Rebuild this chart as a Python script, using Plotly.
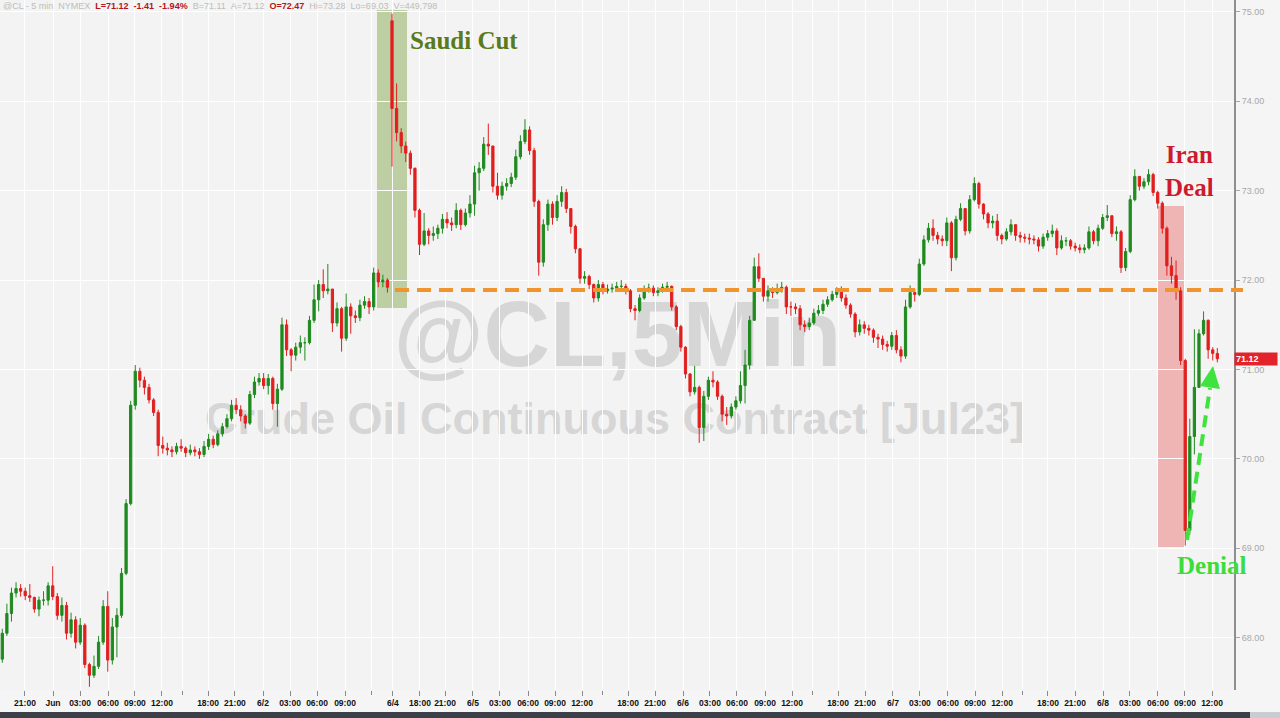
import plotly.graph_objects as go

closes = [
    68.05, 68.27, 68.50, 68.55, 68.52, 68.47, 68.45, 68.32, 68.42, 68.42,
    68.58, 68.46, 68.25, 68.36, 68.05, 68.20, 67.95, 68.14, 67.70, 67.58,
    67.68, 67.95, 68.35, 67.75, 68.12, 68.25, 68.72, 69.50, 70.60, 70.98,
    70.88, 70.80, 70.66, 70.52, 70.15, 70.12, 70.10, 70.08, 70.14, 70.12,
    70.07, 70.10, 70.08, 70.05, 70.14, 70.22, 70.16, 70.28, 70.36, 70.45,
    70.60, 70.55, 70.48, 70.40, 70.72, 70.86, 70.90, 70.82, 70.90, 70.62,
    70.78, 71.50, 71.22, 71.16, 71.25, 71.30, 71.30, 71.55, 71.78, 71.95,
    71.88, 71.90, 71.52, 71.68, 71.35, 71.70, 71.60, 71.58, 71.72, 71.76,
    71.70, 72.08, 71.98, 72.00, 71.92, 73.92, 73.65, 73.50, 73.42, 73.25,
    72.78, 72.40, 72.55, 72.50, 72.52, 72.58, 72.68, 72.64, 72.62, 72.78,
    72.62, 72.75, 72.85, 73.20, 73.25, 73.52, 73.50, 73.05, 72.95, 73.05,
    73.08, 73.15, 73.38, 73.55, 73.68, 73.45, 72.88, 72.20, 72.62, 72.85,
    72.70, 72.88, 72.98, 72.80, 72.60, 72.35, 72.02, 72.04, 71.95, 71.80,
    71.95, 71.88, 71.90, 71.91, 71.93, 71.93, 71.88, 71.68, 71.66, 71.80,
    71.90, 71.91, 71.86, 71.88, 71.92, 71.93, 71.70, 71.48, 71.25, 70.95,
    70.75, 70.80, 70.35, 70.70, 70.88, 70.86, 70.70, 70.50, 70.48, 70.58,
    70.65, 70.82, 71.05, 71.55, 72.15, 72.02, 71.82, 71.88, 71.86, 71.90,
    71.92, 71.70, 71.70, 71.68, 71.50, 71.48, 71.52, 71.63, 71.66, 71.73,
    71.78, 71.84, 71.88, 71.80, 71.72, 71.62, 71.42, 71.50, 71.46, 71.44,
    71.36, 71.34, 71.28, 71.26, 71.38, 71.22, 71.15, 71.70, 71.86, 71.84,
    72.18, 72.45, 72.58, 72.50, 72.46, 72.44, 72.64, 72.25, 72.68, 72.80,
    72.55, 72.90, 73.08, 72.85, 72.74, 72.64, 72.66, 72.50, 72.46, 72.54,
    72.62, 72.50, 72.48, 72.47, 72.46, 72.45, 72.38, 72.48, 72.52, 72.55,
    72.36, 72.44, 72.44, 72.38, 72.36, 72.34, 72.36, 72.54, 72.44, 72.58,
    72.70, 72.72, 72.52, 72.54, 72.14, 72.32, 72.90, 73.16, 73.05, 73.10,
    73.18, 72.98, 72.86, 72.58, 72.16, 72.05, 71.88, 71.10, 69.20, 70.25,
    70.80, 71.40, 71.55, 71.22, 71.18, 71.12,
]
highs = [
    68.10, 68.38, 68.56, 68.62, 68.60, 68.56, 68.60, 68.46, 68.46, 68.52,
    68.62, 68.80, 68.50, 68.45, 68.40, 68.28, 68.24, 68.22, 68.16, 67.72,
    67.80, 68.02, 68.42, 68.52, 68.22, 68.33, 68.78, 69.55, 70.65, 71.05,
    71.02, 70.92, 70.84, 70.68, 70.55, 70.25, 70.18, 70.14, 70.18, 70.22,
    70.14, 70.16, 70.14, 70.12, 70.20, 70.28, 70.26, 70.32, 70.40, 70.50,
    70.66, 70.68, 70.60, 70.50, 70.76, 70.92, 70.96, 70.96, 70.95, 70.92,
    70.84, 71.58, 71.56, 71.24, 71.30, 71.38, 71.36, 71.60, 71.95, 72.00,
    72.12, 72.18, 71.90, 71.75, 71.70, 71.85, 71.74, 71.66, 71.78, 71.82,
    71.80, 72.14, 72.12, 72.06, 72.02, 74.98, 74.20, 73.70, 73.55, 73.45,
    73.26, 72.80, 72.75, 72.58, 72.60, 72.62, 72.74, 72.76, 72.70, 72.86,
    72.80, 72.80, 72.95, 73.28, 73.32, 73.60, 73.75, 73.50, 73.20, 73.10,
    73.14, 73.20, 73.46, 73.62, 73.80, 73.72, 73.48, 72.90, 72.68, 72.90,
    72.88, 72.95, 73.05, 73.02, 72.80, 72.62, 72.36, 72.10, 72.06, 71.96,
    72.00, 71.98, 71.95, 71.96, 71.98, 72.00, 71.96, 71.90, 71.72, 71.84,
    71.94, 71.96, 71.94, 71.92, 71.96, 71.98, 71.94, 71.72, 71.50, 71.26,
    70.96, 71.04, 70.82, 70.76, 70.92, 70.98, 70.88, 70.72, 70.58, 70.62,
    70.70, 70.98, 71.22, 71.60, 72.25, 72.30, 72.02, 71.94, 71.92, 71.96,
    71.98, 71.94, 71.76, 71.74, 71.72, 71.55, 71.58, 71.68, 71.72, 71.78,
    71.82, 71.88, 71.92, 71.93, 71.84, 71.74, 71.64, 71.56, 71.54, 71.50,
    71.46, 71.40, 71.38, 71.32, 71.42, 71.44, 71.26, 71.78, 71.94, 71.90,
    72.24, 72.50, 72.64, 72.68, 72.54, 72.50, 72.70, 72.66, 72.72, 72.86,
    72.80, 72.95, 73.15, 73.10, 72.86, 72.76, 72.72, 72.74, 72.52, 72.58,
    72.68, 72.62, 72.54, 72.52, 72.52, 72.50, 72.48, 72.52, 72.56, 72.62,
    72.58, 72.50, 72.48, 72.46, 72.42, 72.40, 72.40, 72.60, 72.56, 72.62,
    72.74, 72.84, 72.72, 72.60, 72.56, 72.36, 72.95, 73.24, 73.16, 73.14,
    73.24, 73.20, 73.00, 72.88, 72.60, 72.26, 72.22, 71.92, 71.12, 70.45,
    71.45, 71.45, 71.65, 71.56, 71.25, 71.24,
]
lows = [
    67.72, 68.02, 68.18, 68.45, 68.46, 68.42, 68.40, 68.28, 68.24, 68.36,
    68.36, 68.42, 68.20, 68.18, 67.98, 68.00, 67.88, 67.92, 67.66, 67.45,
    67.55, 67.65, 67.92, 67.62, 67.70, 67.78, 68.22, 68.70, 69.48, 70.55,
    70.80, 70.72, 70.62, 70.48, 70.03, 70.06, 70.04, 70.02, 70.05, 70.08,
    70.02, 70.04, 70.03, 70.00, 70.02, 70.10, 70.12, 70.14, 70.25, 70.34,
    70.42, 70.50, 70.42, 70.34, 70.38, 70.68, 70.82, 70.78, 70.72, 70.55,
    70.36, 70.76, 71.15, 70.98, 71.10, 71.18, 71.10, 71.28, 71.52, 71.65,
    71.80, 71.84, 71.42, 71.48, 71.20, 71.32, 71.40, 71.52, 71.54, 71.68,
    71.62, 71.66, 71.92, 71.92, 71.86, 73.27, 73.55, 73.42, 73.32, 73.18,
    72.70, 72.28, 72.38, 72.40, 72.44, 72.46, 72.52, 72.58, 72.55, 72.58,
    72.56, 72.60, 72.70, 72.72, 73.00, 73.22, 73.40, 72.98, 72.90, 72.90,
    73.00, 73.04, 73.12, 73.35, 73.52, 73.40, 72.82, 72.05, 72.15, 72.55,
    72.62, 72.66, 72.82, 72.75, 72.52, 72.30, 71.96, 71.96, 71.90, 71.75,
    71.76, 71.84, 71.85, 71.86, 71.88, 71.89, 71.84, 71.64, 71.55, 71.64,
    71.78, 71.86, 71.82, 71.82, 71.86, 71.88, 71.66, 71.44, 71.20, 70.90,
    70.70, 70.72, 70.18, 70.20, 70.66, 70.80, 70.66, 70.42, 70.38, 70.45,
    70.55, 70.62, 70.62, 71.00, 71.55, 71.98, 71.76, 71.76, 71.80, 71.84,
    71.86, 71.62, 71.60, 71.62, 71.44, 71.42, 71.44, 71.50, 71.60, 71.62,
    71.70, 71.76, 71.80, 71.76, 71.68, 71.58, 71.36, 71.38, 71.40, 71.38,
    71.30, 71.24, 71.22, 71.20, 71.22, 71.18, 71.08, 71.12, 71.68, 71.76,
    71.82, 72.16, 72.42, 72.44, 72.40, 72.38, 72.38, 72.10, 72.22, 72.66,
    72.50, 72.52, 72.88, 72.80, 72.68, 72.58, 72.58, 72.44, 72.40, 72.44,
    72.50, 72.44, 72.42, 72.42, 72.40, 72.40, 72.32, 72.35, 72.44, 72.48,
    72.28, 72.34, 72.38, 72.34, 72.32, 72.30, 72.30, 72.34, 72.40, 72.38,
    72.56, 72.66, 72.48, 72.44, 72.08, 72.10, 72.30, 72.88, 73.00, 73.02,
    73.06, 72.94, 72.80, 72.52, 72.05, 71.96, 71.78, 71.05, 69.03, 69.15,
    70.05, 70.80, 71.38, 71.12, 71.10, 71.08,
]
FIRST_OPEN = 67.76
GAP_BAR = 85          # first bar of the Sunday session (Saudi cut gap)
GAP_OPEN = 74.90
LAST_PRICE = 71.12
LEVEL = 71.89         # orange dashed reference level

# x-axis labels (positions in 30-min bar units)
tick_pos = [4.95, 11.06, 16.95, 23.06, 28.94, 34.83, 44.87, 50.75, 56.86, 62.75,
            68.64, 74.75, 85.20, 91.10, 96.56, 102.66, 108.55, 114.66, 120.55,
            126.44, 136.47, 142.36, 148.47, 154.35, 160.24, 166.35, 172.24,
            182.27, 188.16, 194.26, 200.15, 206.26, 212.15, 218.04, 228.07,
            233.96, 240.07, 245.95, 252.06, 257.95, 263.84]
tick_text = ["21:00", "Jun", "03:00", "06:00", "09:00", "12:00", "18:00", "21:00",
             "6/2", "03:00", "06:00", "09:00", "6/4", "18:00", "21:00", "6/5",
             "03:00", "06:00", "09:00", "12:00", "18:00", "21:00", "6/6", "03:00",
             "06:00", "09:00", "12:00", "18:00", "21:00", "6/7", "03:00", "06:00",
             "09:00", "12:00", "18:00", "21:00", "6/8", "03:00", "06:00", "09:00",
             "12:00"]
minor_pos = [39.2, 80.6, 130.8, 176.6, 222.4]
y_ticks = [68, 69, 70, 71, 72, 73, 74, 75]

bars = list(range(len(closes)))
opens = [FIRST_OPEN] + closes[:-1]
opens[GAP_BAR] = GAP_OPEN

# ---- geometry helpers for annotation overlays ----
W, H = 1280, 718
ML, MR, MT, MB = 0, 46, 0, 28
PW, PH = W - ML - MR, H - MT - MB
Y_TOP, Y_BOT = 75.133, 67.415
X_MIN, X_MAX = -0.5, PW / 4.585 - 0.5


def fx(px):
    return px / PW


def fy(py):
    return 1 - py / PH


fig = go.Figure()

fig.add_trace(go.Candlestick(
    x=bars, open=opens, high=highs, low=lows, close=closes,
    increasing=dict(line=dict(color="#1f8a1f", width=1), fillcolor="#1f8a1f"),
    decreasing=dict(line=dict(color="#e11f1f", width=1), fillcolor="#e11f1f"),
    whiskerwidth=0, showlegend=False, hoverinfo="skip",
))

shapes = []
# watermark texts
shapes.append(dict(type="rect", xref="paper", yref="paper", layer="below",
                   x0=fx(300), x1=fx(935), y0=fy(375), y1=fy(275),
                   line=dict(width=0), fillcolor="rgba(0,0,0,0)",
                   label=dict(text="@CL,5Min", textposition="middle center",
                              font=dict(family="Liberation Sans", size=92,
                                        color="#d6d6d6", weight="bold"))))
shapes.append(dict(type="rect", xref="paper", yref="paper", layer="below",
                   x0=fx(150), x1=fx(1080), y0=fy(445), y1=fy(383),
                   line=dict(width=0), fillcolor="rgba(0,0,0,0)",
                   label=dict(text="Crude Oil Continuous Contract [Jul23]",
                              textposition="middle center",
                              font=dict(family="Liberation Sans", size=45,
                                        color="#d6d6d6", weight="bold"))))
# event highlight boxes
shapes.append(dict(type="rect", xref="paper", yref="paper", layer="below",
                   x0=fx(377), x1=fx(407), y0=fy(308), y1=fy(10),
                   line=dict(width=0), fillcolor="rgba(125,165,65,0.45)"))
shapes.append(dict(type="rect", xref="paper", yref="paper", layer="below",
                   x0=fx(1157), x1=fx(1184), y0=fy(547), y1=fy(206),
                   line=dict(width=0), fillcolor="rgba(232,85,85,0.40)"))
# orange dashed level
lvl_y = (LEVEL - Y_BOT) / (Y_TOP - Y_BOT)
shapes.append(dict(type="line", xref="paper", yref="paper",
                   x0=fx(395), x1=fx(1243), y0=lvl_y, y1=lvl_y,
                   line=dict(color="#f0952e", width=4, dash="14px,8px")))
# green dashed arrow
shapes.append(dict(type="line", xref="paper", yref="paper",
                   x0=fx(1187), y0=fy(540), x1=fx(1210), y1=fy(388),
                   line=dict(color="#3fe23f", width=4, dash="12px,7px")))
shapes.append(dict(type="path", xref="paper", yref="paper",
                   path=(f"M {fx(1213)},{fy(366)} L {fx(1220)},{fy(389)} "
                         f"L {fx(1200)},{fy(386)} Z"),
                   line=dict(width=0), fillcolor="#3fe23f"))
# bottom dark strip
shapes.append(dict(type="rect", xref="paper", yref="paper",
                   x0=0, x1=fx(1250), y0=fy(718), y1=fy(712),
                   line=dict(width=0), fillcolor="#3b4048"))
shapes.append(dict(type="rect", xref="paper", yref="paper",
                   x0=fx(1250), x1=fx(1280), y0=fy(718), y1=fy(712),
                   line=dict(width=0), fillcolor="#c9cdd2"))

annotations = []
hdr = ("<span style='color:#bdbdbd'>@CL - 5 min&nbsp;&nbsp;NYMEX&nbsp;&nbsp;</span>"
       "<b><span style='color:#b3151b'>L=71.12&nbsp;&nbsp;-1.41&nbsp;&nbsp;-1.94%</span></b>"
       "<span style='color:#bdbdbd'>&nbsp;&nbsp;B=71.11&nbsp;&nbsp;A=71.12&nbsp;&nbsp;</span>"
       "<b><span style='color:#b3151b'>O=72.47</span></b>"
       "<span style='color:#bdbdbd'>&nbsp;&nbsp;Hi=73.28&nbsp;&nbsp;Lo=69.03&nbsp;&nbsp;V=449,798</span>")
annotations.append(dict(xref="paper", yref="paper", x=fx(1), y=fy(6),
                        xanchor="left", yanchor="middle", showarrow=False,
                        text=hdr, font=dict(family="Liberation Sans", size=9)))
annotations.append(dict(xref="paper", yref="paper", x=fx(408), y=fy(40),
                        xanchor="left", yanchor="middle", showarrow=False,
                        text="Saudi Cut",
                        font=dict(family="Liberation Serif", size=25,
                                  color="#5a7b1c", weight="bold")))
annotations.append(dict(xref="paper", yref="paper", x=fx(1189), y=fy(171),
                        xanchor="center", yanchor="middle", showarrow=False,
                        text="Iran<br>Deal", align="center",
                        font=dict(family="Liberation Serif", size=25,
                                  color="#cc1b2e", weight="bold")))
annotations.append(dict(xref="paper", yref="paper", x=fx(1212), y=fy(565),
                        xanchor="center", yanchor="middle", showarrow=False,
                        text="Denial",
                        font=dict(family="Liberation Serif", size=25,
                                  color="#3ddc3d", weight="bold")))
annotations.append(dict(xref="paper", yref="y", x=1.0, y=LAST_PRICE,
                        xanchor="left", yanchor="middle", showarrow=False,
                        text="<b>%.2f</b>" % LAST_PRICE, align="left",
                        bgcolor="#e3232a", width=40, height=10, borderpad=1,
                        font=dict(family="Liberation Sans", size=9, color="white")))

fig.update_layout(
    width=W, height=H,
    margin=dict(l=ML, r=MR, t=MT, b=MB, pad=0),
    paper_bgcolor="#f5f5f5", plot_bgcolor="#f3f3f3",
    showlegend=False, hovermode=False,
    shapes=shapes, annotations=annotations,
    xaxis=dict(range=[X_MIN, X_MAX], rangeslider=dict(visible=False),
               tickmode="array", tickvals=tick_pos, ticktext=tick_text,
               tickangle=0, ticks="outside", ticklen=5, tickcolor="#8a8a8a",
               tickwidth=1,
               tickfont=dict(family="Liberation Sans", size=8.5, color="#111111",
                             weight="bold"),
               showgrid=True, gridcolor="#ffffff", gridwidth=1,
               minor=dict(tickmode="array", tickvals=minor_pos, ticks="outside",
                          ticklen=4, tickcolor="#8a8a8a", showgrid=True,
                          gridcolor="#ffffff"),
               zeroline=False, showline=False, fixedrange=True),
    yaxis=dict(side="right", range=[Y_BOT, Y_TOP], tickmode="array",
               tickvals=y_ticks, tickformat=".2f", ticks="outside", ticklen=4,
               tickcolor="#a8a8a8",
               tickfont=dict(family="Liberation Sans", size=9, color="#a8a8a8"),
               showgrid=True, gridcolor="#ffffff", gridwidth=1,
               showline=True, linecolor="#8f8f8f", linewidth=2,
               zeroline=False, fixedrange=True),
)

fig.write_html("out.html",
               config={"displayModeBar": False, "staticPlot": True},
               post_script="document.body.style.margin='0';"
                           "document.body.style.overflow='hidden';")
